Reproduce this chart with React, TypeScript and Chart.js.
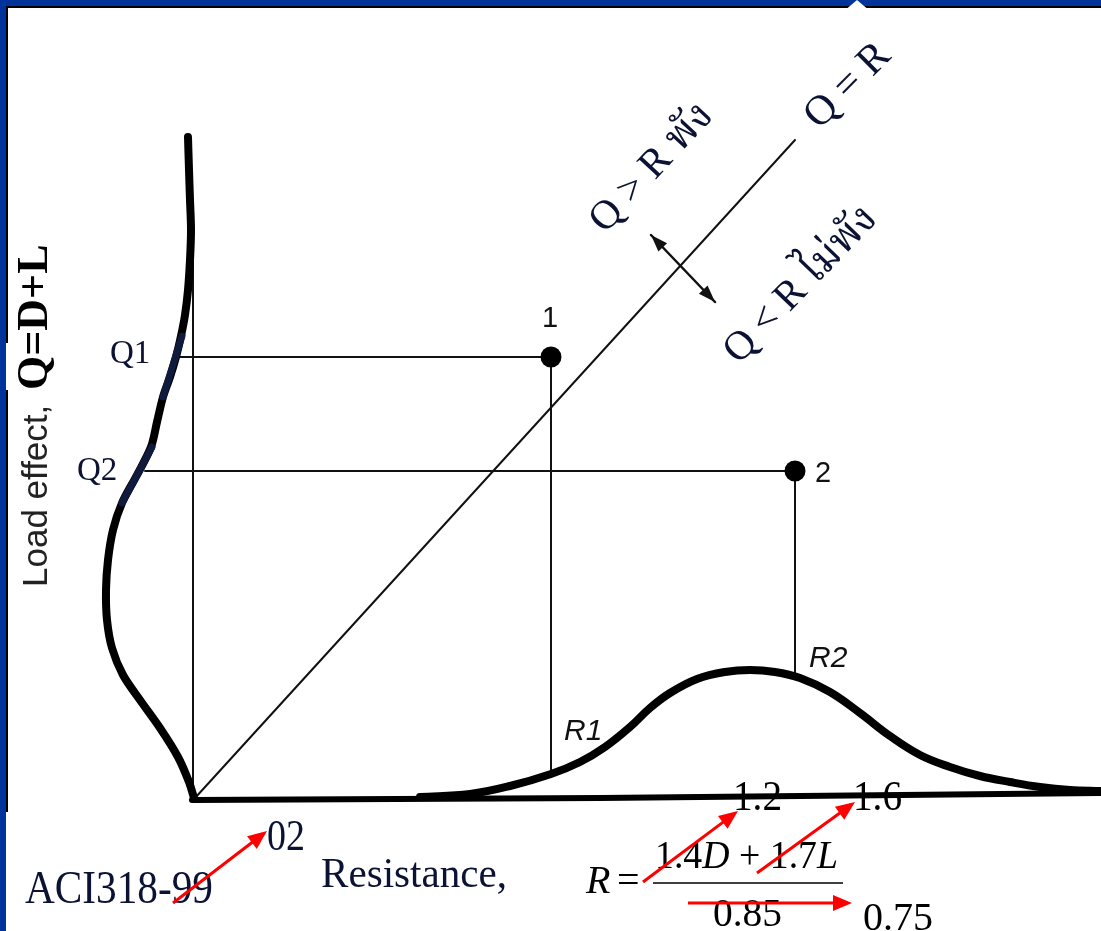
import React, { useEffect, useRef } from "react";
import { Chart, registerables } from "chart.js";

Chart.register(...registerables);

const WIDTH = 1101;
const HEIGHT = 931;

type Pt = [number, number];

// Data space: x = resistance R, y = load effect Q, origin at the axes corner.
// Load-effect distribution, drawn sideways along the Q axis.
const loadCurve: Pt[] = [
  [-0.07, 6.61], [-0.06, 6.28], [-0.05, 5.98], [-0.04, 5.68], [-0.05, 5.38],
  [-0.07, 5.08], [-0.1, 4.83], [-0.14, 4.62], [-0.19, 4.41], [-0.25, 4.21],
  [-0.32, 4.01], [-0.38, 3.76], [-0.44, 3.51], [-0.58, 3.23], [-0.73, 2.95],
  [-0.82, 2.68], [-0.87, 2.38], [-0.89, 2.08], [-0.88, 1.78], [-0.83, 1.5],
  [-0.72, 1.23], [-0.55, 0.98], [-0.35, 0.7], [-0.17, 0.41], [-0.06, 0.16],
  [-0.01, 0.0],
];
// Highlighted pieces of the load curve around Q1 and Q2.
const q1Band: Pt[] = [[-0.13, 4.62], [-0.32, 4.01]];
const q2Band: Pt[] = [[-0.43, 3.51], [-0.73, 2.95]];

// Resistance distribution along the R axis.
const resistanceCurve: Pt[] = [
  [2.25, 0.01], [2.75, 0.04], [3.15, 0.12], [3.56, 0.24], [3.85, 0.36],
  [4.1, 0.51], [4.35, 0.71], [4.55, 0.9], [4.75, 1.05], [5.02, 1.19],
  [5.3, 1.26], [5.55, 1.28], [5.8, 1.26], [6.05, 1.2], [6.35, 1.06],
  [6.65, 0.85], [6.95, 0.62], [7.25, 0.43], [7.55, 0.31], [7.85, 0.22],
  [8.15, 0.16], [8.45, 0.11], [8.75, 0.08], [9.06, 0.07],
];

const rAxis: Pt[] = [[-0.03, -0.02], [4.05, 0.0], [9.06, 0.05]];
const qAxis: Pt[] = [[-0.02, 5.78], [-0.02, 0.0]];
const equalityLine: Pt[] = [[0, 0], [6.0, 6.58]];
const failureArrow: Pt[] = [[4.56, 5.63], [5.2, 4.96]];

// Two design cases, (R, Q), and where each R meets the resistance curve.
const caseNames = ["1", "2"];
const caseR = [3.56, 6.0];
const caseQ = [4.41, 3.27];
const caseDensity = [0.24, 1.21];
const qLineStart = [-0.17, -0.5];
const qNames = ["Q1", "Q2"];
const rNames = ["R1", "R2"];

const SERIF = '"Liberation Serif", "Times New Roman", "Noto Serif Thai", "Noto Sans Thai", serif';
const SANS = '"Liberation Sans", Arial, sans-serif';
const INK = "#0b1233";
const BLUE = "#003399";

const toXY = (pts: Pt[]) => pts.map(([x, y]) => ({ x, y }));

function arrowHead(ctx: CanvasRenderingContext2D, fx: number, fy: number, tx: number, ty: number, len: number, half: number, color: string) {
  const a = Math.atan2(ty - fy, tx - fx);
  const bx = tx - len * Math.cos(a);
  const by = ty - len * Math.sin(a);
  ctx.save();
  ctx.fillStyle = color;
  ctx.beginPath();
  ctx.moveTo(tx, ty);
  ctx.lineTo(bx + half * Math.sin(a), by - half * Math.cos(a));
  ctx.lineTo(bx - half * Math.sin(a), by + half * Math.cos(a));
  ctx.closePath();
  ctx.fill();
  ctx.restore();
}

function redArrow(ctx: CanvasRenderingContext2D, fx: number, fy: number, tx: number, ty: number) {
  const a = Math.atan2(ty - fy, tx - fx);
  ctx.save();
  ctx.strokeStyle = "#ff0000";
  ctx.lineWidth = 3;
  ctx.beginPath();
  ctx.moveTo(fx, fy);
  ctx.lineTo(tx - 14 * Math.cos(a), ty - 14 * Math.sin(a));
  ctx.stroke();
  ctx.restore();
  arrowHead(ctx, fx, fy, tx, ty, 19, 8, "#ff0000");
}

function rotText(ctx: CanvasRenderingContext2D, text: string, cx: number, cy: number, deg: number, font: string, color: string) {
  ctx.save();
  ctx.translate(cx, cy);
  ctx.rotate((deg * Math.PI) / 180);
  ctx.font = font;
  ctx.fillStyle = color;
  ctx.textAlign = "center";
  ctx.textBaseline = "middle";
  ctx.fillText(text, 0, 0);
  ctx.restore();
}

function fitText(ctx: CanvasRenderingContext2D, text: string, x: number, y: number, font: string, width: number, color: string) {
  ctx.save();
  ctx.font = font;
  const w = ctx.measureText(text).width;
  ctx.translate(x, y);
  ctx.scale(width / w, 1);
  ctx.fillStyle = color;
  ctx.textAlign = "left";
  ctx.textBaseline = "alphabetic";
  ctx.fillText(text, 0, 0);
  ctx.restore();
}

function plainText(ctx: CanvasRenderingContext2D, text: string, x: number, y: number, font: string, color: string, align: CanvasTextAlign = "left") {
  ctx.save();
  ctx.font = font;
  ctx.fillStyle = color;
  ctx.textAlign = align;
  ctx.textBaseline = "alphabetic";
  ctx.fillText(text, x, y);
  ctx.restore();
}

const decor = {
  id: "decor",
  beforeDraw(chart: any) {
    const ctx: CanvasRenderingContext2D = chart.ctx;
    ctx.save();
    ctx.fillStyle = "#ffffff";
    ctx.fillRect(0, 0, chart.width, chart.height);
    ctx.restore();
  },
  afterDraw(chart: any) {
    const ctx: CanvasRenderingContext2D = chart.ctx;
    const sx = chart.scales.x;
    const sy = chart.scales.y;
    const X = (v: number) => sx.getPixelForValue(v);
    const Y = (v: number) => sy.getPixelForValue(v);

    // heads of the double arrow across Q = R
    const [a0, a1] = failureArrow;
    arrowHead(ctx, X(a1[0]), Y(a1[1]), X(a0[0]), Y(a0[1]), 17, 6, "#111");
    arrowHead(ctx, X(a0[0]), Y(a0[1]), X(a1[0]), Y(a1[1]), 17, 6, "#111");

    // case labels
    plainText(ctx, caseNames[0], X(caseR[0]) - 1, Y(caseQ[0] + 0.3), `29px ${SANS}`, "#111", "center");
    plainText(ctx, caseNames[1], X(caseR[1] + 0.2), Y(caseQ[1] - 0.11), `29px ${SANS}`, "#111");
    plainText(ctx, rNames[0], X(caseR[0] + 0.13), Y(0.58), `italic 30px ${SANS}`, "#111");
    plainText(ctx, rNames[1], X(caseR[1] + 0.14), Y(1.31), `italic 30px ${SANS}`, "#111");
    plainText(ctx, qNames[0], X(-0.85), Y(4.35), `33px ${SERIF}`, INK);
    plainText(ctx, qNames[1], X(-1.18), Y(3.18), `33px ${SERIF}`, INK);

    // regions either side of the equality line
    rotText(ctx, "Q = R", X(6.53), Y(7.12), -45, `42px ${SERIF}`, INK);
    rotText(ctx, "Q > R พัง", X(4.57), Y(6.3), -47, `41px ${SERIF}`, INK);
    rotText(ctx, "Q < R ไม่พัง", X(6.06), Y(5.13), -46, `41px ${SERIF}`, INK);

    // vertical axis title
    ctx.save();
    ctx.translate(47, 587);
    ctx.rotate(-Math.PI / 2);
    ctx.textAlign = "left";
    ctx.textBaseline = "alphabetic";
    ctx.font = `35px ${SANS}`;
    ctx.fillStyle = "#222";
    ctx.fillText("Load effect,", 0, 0);
    ctx.font = `bold 44px ${SERIF}`;
    ctx.fillStyle = "#000";
    ctx.fillText("Q=D+L", 197, 0);
    ctx.restore();

    // caption and load-factor formula
    fitText(ctx, "ACI318-99", 25, 903, `46px ${SERIF}`, 188, INK);
    fitText(ctx, "02", 267, 850, `44px ${SERIF}`, 38, INK);
    fitText(ctx, "Resistance,", 321, 887, `42px ${SERIF}`, 186, INK);

    plainText(ctx, "R", 586, 893, `italic 40px ${SERIF}`, "#000");
    plainText(ctx, "=", 617, 893, `40px ${SERIF}`, "#000");
    // numerator
    const parts: [string, boolean][] = [["1.4", false], ["D", true], [" + ", false], ["1.7", false], ["L", true]];
    ctx.save();
    let total = 0;
    const widths = parts.map(([t, it]) => {
      ctx.font = `${it ? "italic " : ""}40px ${SERIF}`;
      const w = ctx.measureText(t).width;
      total += w;
      return w;
    });
    const k = 183 / total;
    ctx.translate(655, 868);
    ctx.scale(k, 1);
    let cx = 0;
    parts.forEach(([t, it], i) => {
      ctx.font = `${it ? "italic " : ""}40px ${SERIF}`;
      ctx.fillStyle = "#000";
      ctx.textAlign = "left";
      ctx.fillText(t, cx, 0);
      cx += widths[i];
    });
    ctx.restore();
    ctx.save();
    ctx.strokeStyle = "#000";
    ctx.lineWidth = 1.6;
    ctx.beginPath();
    ctx.moveTo(653, 883);
    ctx.lineTo(843, 883);
    ctx.stroke();
    ctx.restore();
    fitText(ctx, "0.85", 713, 926, `40px ${SERIF}`, 69, "#000");
    fitText(ctx, "1.2", 733, 810, `42px ${SERIF}`, 49, "#000");
    fitText(ctx, "1.6", 853, 810, `42px ${SERIF}`, 49, "#000");
    fitText(ctx, "0.75", 863, 930, `40px ${SERIF}`, 70, "#000");

    redArrow(ctx, 643, 882, 738, 811);
    redArrow(ctx, 757, 873, 855, 802);
    redArrow(ctx, 688, 903, 852, 903);
    redArrow(ctx, 173, 903, 267, 831);

    // slide frame
    const W = chart.width;
    const H = chart.height;
    ctx.save();
    ctx.fillStyle = BLUE;
    ctx.fillRect(0, 0, W, 6);
    ctx.fillRect(0, 0, 6, H);
    ctx.fillStyle = "#000";
    ctx.fillRect(6, 6, W - 6, 2);
    ctx.fillRect(6, 6, 2, 806);
    ctx.fillStyle = "#fff";
    ctx.fillRect(6, 343, 2, 47);
    ctx.beginPath();
    ctx.moveTo(847, 8.5);
    ctx.lineTo(857, 0);
    ctx.lineTo(867, 8.5);
    ctx.closePath();
    ctx.fill();
    ctx.restore();
  },
};

function lineSet(pts: Pt[], width: number, color: string, order: number, extra: any = {}) {
  return {
    data: toXY(pts),
    showLine: true,
    borderColor: color,
    borderWidth: width,
    pointRadius: 0,
    tension: 0,
    borderCapStyle: "round",
    borderJoinStyle: "round",
    order,
    ...extra,
  };
}

export default function App() {
  const ref = useRef<HTMLCanvasElement | null>(null);

  useEffect(() => {
    if (!ref.current) return;
    const qLines = caseQ.map((q, i) => lineSet([[qLineStart[i], q], [caseR[i], q]], 2, "#111", 4));
    const rLines = caseQ.map((q, i) => lineSet([[caseR[i], q], [caseR[i], caseDensity[i]]], 2, "#111", 4));
    const datasets: any[] = [
      lineSet(q1Band, 7, "#0f1a3c", 0),
      lineSet(q2Band, 7, "#0f1a3c", 0),
      {
        data: caseR.map((r, i) => ({ x: r, y: caseQ[i] })),
        showLine: false,
        pointRadius: 10.5,
        pointBackgroundColor: "#000",
        pointBorderWidth: 0,
        order: 1,
      },
      lineSet(loadCurve, 8, "#000", 2, { tension: 0.3 }),
      lineSet(resistanceCurve, 8, "#000", 2, { tension: 0.4 }),
      lineSet(rAxis, 6, "#000", 3),
      lineSet(qAxis, 2, "#111", 4),
      lineSet(equalityLine, 2, "#111", 4),
      lineSet(failureArrow, 2.5, "#111", 4),
      ...qLines,
      ...rLines,
    ];

    const chart = new Chart(ref.current, {
      type: "scatter",
      data: { datasets },
      options: {
        animation: false,
        responsive: false,
        events: [],
        layout: { padding: 0, autoPadding: false },
        plugins: { legend: { display: false }, tooltip: { enabled: false } },
        scales: {
          x: { type: "linear", min: -1.95, max: 9.06, display: false },
          y: { type: "linear", min: -1.33, max: 7.98, display: false },
        },
      },
      plugins: [decor],
    } as any);
    return () => chart.destroy();
  }, []);

  return (
    <div style={{ position: "fixed", left: 0, top: 0, width: WIDTH, height: HEIGHT, background: "#fff" }}>
      <canvas ref={ref} width={WIDTH} height={HEIGHT} style={{ display: "block", width: WIDTH, height: HEIGHT }} />
    </div>
  );
}
